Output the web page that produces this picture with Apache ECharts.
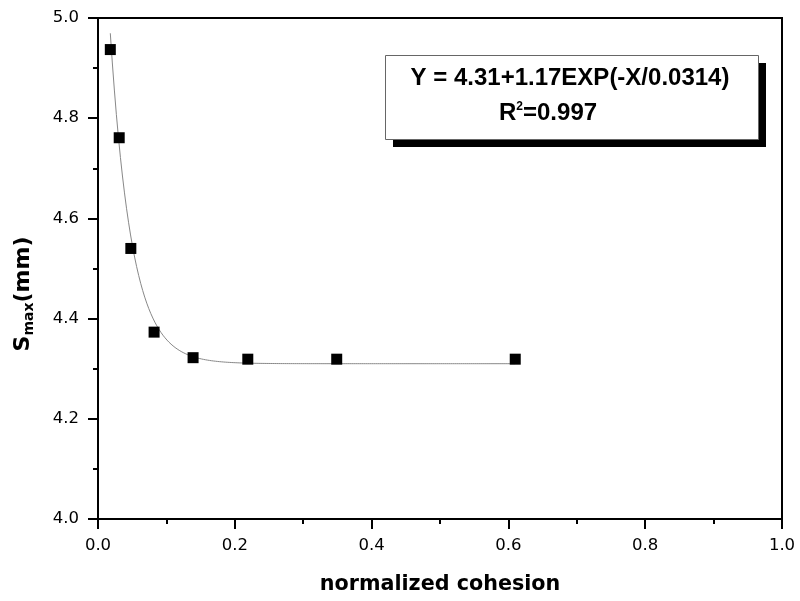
<!DOCTYPE html>
<html>
<head>
<meta charset="utf-8">
<script src="https://cdn.jsdelivr.net/npm/echarts@6/dist/echarts.min.js"></script>
<style>
  html, body { margin: 0; padding: 0; background: #fff; }
  #chart { width: 800px; height: 601px; }
</style>
</head>
<body>
<div id="chart"></div>
<script>
// Measured points: normalized cohesion vs. maximum settlement S_max (mm)
const cohesion = [0.018, 0.031, 0.048, 0.082, 0.139, 0.219, 0.349, 0.610];
const smax     = [4.937, 4.761, 4.540, 4.373, 4.322, 4.319, 4.319, 4.319];

// Exponential-decay fit parameters: Y = A + B*exp(-X/T)
const fitA = 4.31;
const fitB = 1.17;
const fitT = 0.0314;
const fitR2 = 0.997;

// Axis tick labels
const xTicks = ['0.0', '0.2', '0.4', '0.6', '0.8', '1.0'];
const yTicks = ['4.0', '4.2', '4.4', '4.6', '4.8', '5.0'];

const points = cohesion.map((x, i) => [x, smax[i]]);

// Fit curve sampled across the measured cohesion range
const fitCurve = [];
const x0 = cohesion[0], x1 = cohesion[cohesion.length - 1];
const steps = 200;
for (let i = 0; i <= steps; i++) {
  const x = x0 + (x1 - x0) * i / steps;
  fitCurve.push([x, fitA + fitB * Math.exp(-x / fitT)]);
}

const font = 'DejaVu Sans';
const boxFont = 'Liberation Sans';
const fitLabel = `Y = ${fitA}+${fitB}EXP(-X/${fitT})`;

const chart = echarts.init(document.getElementById('chart'));
chart.setOption({
  animation: false,
  backgroundColor: '#fff',
  grid: {
    left: 98, right: 18, top: 18, bottom: 82,
    show: true, borderColor: '#000', borderWidth: 2
  },
  xAxis: {
    type: 'value', min: 0, max: 1, interval: 0.2,
    name: 'normalized cohesion', nameLocation: 'middle', nameGap: 55,
    nameTextStyle: { fontFamily: font, fontWeight: 'bold', fontSize: 20.7, color: '#000' },
    axisLine: { lineStyle: { color: '#000', width: 2 } },
    axisTick: { length: 10, lineStyle: { color: '#000', width: 2 } },
    minorTick: { show: true, splitNumber: 2, length: 5, lineStyle: { color: '#000', width: 2 } },
    splitLine: { show: false },
    axisLabel: {
      margin: 18, fontFamily: font, fontSize: 16.5, color: '#000',
      formatter: v => xTicks[Math.round(v / 0.2)]
    }
  },
  yAxis: {
    type: 'value', min: 4, max: 5, interval: 0.2,
    axisLine: { lineStyle: { color: '#000', width: 2 } },
    axisTick: { length: 10, lineStyle: { color: '#000', width: 2 } },
    minorTick: { show: true, splitNumber: 2, length: 5, lineStyle: { color: '#000', width: 2 } },
    splitLine: { show: false },
    axisLabel: {
      margin: 19, fontFamily: font, fontSize: 16.5, color: '#000',
      formatter: v => yTicks[Math.round((v - 4) / 0.2)]
    }
  },
  series: [
    {
      type: 'line', data: fitCurve, showSymbol: false, smooth: false,
      lineStyle: { color: '#888', width: 1 }, z: 2
    },
    {
      type: 'scatter', data: points, symbol: 'rect', symbolSize: 11,
      itemStyle: { color: '#000', opacity: 1 }, z: 3
    }
  ],
  graphic: [
    {
      type: 'text', x: 23, y: 294, rotation: Math.PI / 2,
      style: {
        text: '{s|S}{sub|max}{s|(mm)}',
        align: 'center', verticalAlign: 'middle',
        rich: {
          s: { fontFamily: font, fontWeight: 'bold', fontSize: 22, lineHeight: 26, fill: '#000' },
          sub: { fontFamily: font, fontWeight: 'bold', fontSize: 14, lineHeight: 26, verticalAlign: 'bottom', padding: [12, 0, 0, 0], fill: '#000' }
        }
      }
    },
    // Fit equation box with drop shadow
    { type: 'rect', shape: { x: 393, y: 63, width: 373, height: 84 }, style: { fill: '#000' }, z: 10 },
    { type: 'rect', shape: { x: 385.5, y: 55.5, width: 373, height: 84 }, style: { fill: '#fff', stroke: '#666', lineWidth: 1 }, z: 11 },
    {
      type: 'text', x: 570, y: 78.5, z: 12,
      style: { text: fitLabel, align: 'center', verticalAlign: 'middle', fontFamily: boxFont, fontWeight: 'bold', fontSize: 24, fill: '#000' }
    },
    {
      type: 'text', x: 499, y: 113.5, z: 12,
      style: {
        text: `{m|R}{sup|2}{m|=${fitR2}}`, align: 'left', verticalAlign: 'middle',
        rich: {
          m: { fontFamily: boxFont, fontWeight: 'bold', fontSize: 24, lineHeight: 26, fill: '#000' },
          sup: { fontFamily: boxFont, fontWeight: 'bold', fontSize: 12, lineHeight: 26, verticalAlign: 'top', padding: [0, 0, 14, 0], fill: '#000' }
        }
      }
    }
  ]
});
</script>
</body>
</html>
